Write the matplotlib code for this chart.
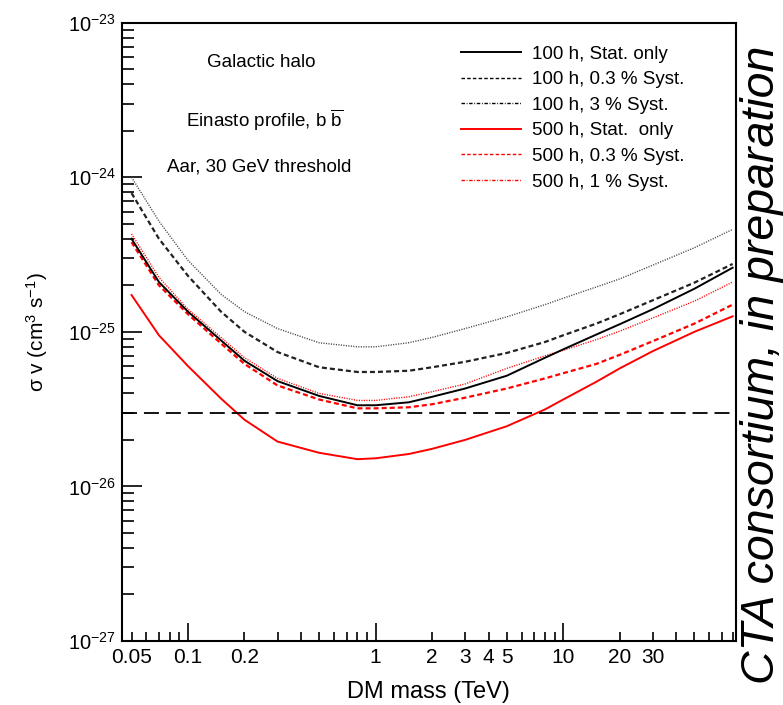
import numpy as np
import matplotlib
matplotlib.use('Agg')
import matplotlib.pyplot as plt
from matplotlib.lines import Line2D
from matplotlib.ticker import LogLocator, NullFormatter, FixedLocator

plt.rcParams['font.family'] = ['Liberation Sans', 'DejaVu Sans']
plt.rcParams['mathtext.fontset'] = 'custom'
plt.rcParams['mathtext.rm'] = 'Liberation Sans'
plt.rcParams['mathtext.it'] = 'Liberation Sans:italic'
plt.rcParams['lines.scale_dashes'] = False

# DM mass grid (TeV) and sensitivity curves, <sigma v> in units of 1e-26 cm^3/s
mass = [0.05, 0.07, 0.1, 0.15, 0.2, 0.3, 0.5, 0.8, 1.0, 1.5, 2, 3, 5, 8, 10, 15, 20, 30, 50, 80]

sv_100h_stat = [40, 21, 13.5, 8.8, 6.5, 4.8, 3.85, 3.35, 3.35, 3.5, 3.8, 4.3, 5.2, 6.8, 7.7, 9.6, 11.2, 14, 19, 26]
sv_100h_sys03 = [79, 40, 23, 13.5, 10, 7.4, 5.9, 5.5, 5.5, 5.6, 5.9, 6.4, 7.3, 8.6, 9.5, 11.3, 13, 16, 20.8, 27.5]
sv_100h_sys3 = [100, 52, 29, 17.5, 13.5, 10.5, 8.5, 8.0, 8.0, 8.5, 9.2, 10.5, 12.5, 15, 16.5, 19.5, 22, 27, 35, 46]
sv_500h_stat = [17.3, 9.5, 6.0, 3.7, 2.7, 1.95, 1.65, 1.5, 1.52, 1.62, 1.75, 2.0, 2.45, 3.15, 3.65, 4.75, 5.8, 7.5, 10.0, 12.6]
sv_500h_sys03 = [38, 20, 13, 8.4, 6.2, 4.5, 3.65, 3.2, 3.2, 3.25, 3.4, 3.75, 4.3, 5.0, 5.4, 6.2, 7.1, 8.7, 11.3, 15]
sv_500h_sys1 = [43, 22.5, 14, 9.2, 6.8, 5.0, 4.0, 3.6, 3.6, 3.8, 4.1, 4.6, 5.8, 7.0, 7.6, 8.9, 10.1, 12.3, 15.8, 21]

labels = ['100 h, Stat. only', '100 h, 0.3 % Syst.', '100 h, 3 % Syst.',
          '500 h, Stat.  only', '500 h, 0.3 % Syst.', '500 h, 1 % Syst.']

thermal_xs = 3e-26

xtick_vals = [0.05, 0.1, 0.2, 1, 2, 3, 4, 5, 10, 20, 30]
xtick_text = ['0.05', '0.1', '0.2', '1', '2', '3', '4', '5', '10', '20', '30']

m = np.array(mass)
scale = 1e-26

fig = plt.figure(figsize=(7.83, 7.05), dpi=100)
ax = fig.add_axes([0.1554, 0.0908, 0.7845, 0.8770])

short_dash = (0, (3.6, 2.2))
dotted = (0, (0.8, 1.0))

ax.plot(m, np.array(sv_100h_sys3) * scale, color='#444444', lw=1.0, ls=dotted)
ax.plot(m, np.array(sv_100h_sys03) * scale, color='#222222', lw=1.6, ls=short_dash)
ax.plot(m, np.array(sv_500h_sys1) * scale, color='red', lw=1.0, ls=dotted)
ax.plot(m, np.array(sv_500h_sys03) * scale, color='red', lw=1.6, ls=short_dash)
ax.plot(m, np.array(sv_100h_stat) * scale, color='black', lw=1.4)
ax.plot(m, np.array(sv_500h_stat) * scale, color='red', lw=1.4)

# thermal relic cross-section
ax.axhline(thermal_xs, color='black', lw=1.3, ls=(0, (10.8, 5.0)))

ax.set_xscale('log')
ax.set_yscale('log')
ax.set_xlim(0.0443, 83.3)
ax.set_ylim(1e-27, 1e-23)

# ticks drawn inside, ROOT style
ax.xaxis.set_major_locator(FixedLocator([0.1, 1, 10]))
ax.xaxis.set_minor_locator(LogLocator(base=10, subs=np.arange(2, 10) / 1.0, numticks=20))
ax.xaxis.set_major_formatter(NullFormatter())
ax.xaxis.set_minor_formatter(NullFormatter())
ax.tick_params(axis='x', which='major', direction='in', length=13, width=1.2, top=False)
ax.tick_params(axis='x', which='minor', direction='in', length=6.5, width=1.2, top=False)
ax.tick_params(axis='y', which='major', direction='in', length=14.5, width=1.2, right=False,
               labelsize=14.5, pad=4)
ax.tick_params(axis='y', which='minor', direction='in', length=8.5, width=1.2, right=False)
ax.yaxis.set_minor_locator(LogLocator(base=10, subs=np.arange(2, 10) / 1.0, numticks=20))
ax.yaxis.set_minor_formatter(NullFormatter())
ax.set_yticks([1e-27, 1e-26, 1e-25, 1e-24, 1e-23])
ax.set_yticklabels([r'$\mathregular{10^{-27}}$', r'$\mathregular{10^{-26}}$', r'$\mathregular{10^{-25}}$',
                    r'$\mathregular{10^{-24}}$', r'$\mathregular{10^{-23}}$'])

for v, t in zip(xtick_vals, xtick_text):
    ax.annotate(t, xy=(v, 0), xycoords=('data', 'axes fraction'), xytext=(0, -5),
                textcoords='offset points', ha='center', va='top', fontsize=15)

for sp in ax.spines.values():
    sp.set_linewidth(1.5)

ax.set_xlabel('DM mass (TeV)', fontsize=17, labelpad=25)
ax.set_ylabel('σ v (cm$^{3}$ s$^{-1}$)', fontsize=15, labelpad=13)

ax.text(0.2276, 0.935, 'Galactic halo', transform=ax.transAxes, ha='center', va='center', fontsize=13.5)
ax.text(0.2333, 0.843, r'Einasto profile, b $\overline{\mathrm{b}}$', transform=ax.transAxes,
        ha='center', va='center', fontsize=13.5)
ax.text(0.2243, 0.767, 'Aar, 30 GeV threshold', transform=ax.transAxes, ha='center', va='center', fontsize=13.5)

handles = [
    Line2D([], [], color='black', lw=1.4),
    Line2D([], [], color='black', lw=1.0, ls=(0, (2.5, 1.6))),
    Line2D([], [], color='black', lw=1.0, ls=(0, (2.5, 1.2, 0.6, 1.2))),
    Line2D([], [], color='red', lw=1.4),
    Line2D([], [], color='red', lw=1.0, ls=(0, (2.5, 1.6))),
    Line2D([], [], color='red', lw=1.0, ls=(0, (2.5, 1.2, 0.6, 1.2))),
]
ax.legend(handles, labels, loc='upper left', bbox_to_anchor=(0.553, 0.963), frameon=False,
          fontsize=13.5, handlelength=3.2, handletextpad=0.55, labelspacing=0.45,
          borderpad=0, borderaxespad=0)

fig.text(0.973, 0.482, 'CTA consortium, in preparation', rotation=90, ha='center', va='center',
         fontsize=33.5, style='italic')

fig.savefig('out.png', dpi=100)
